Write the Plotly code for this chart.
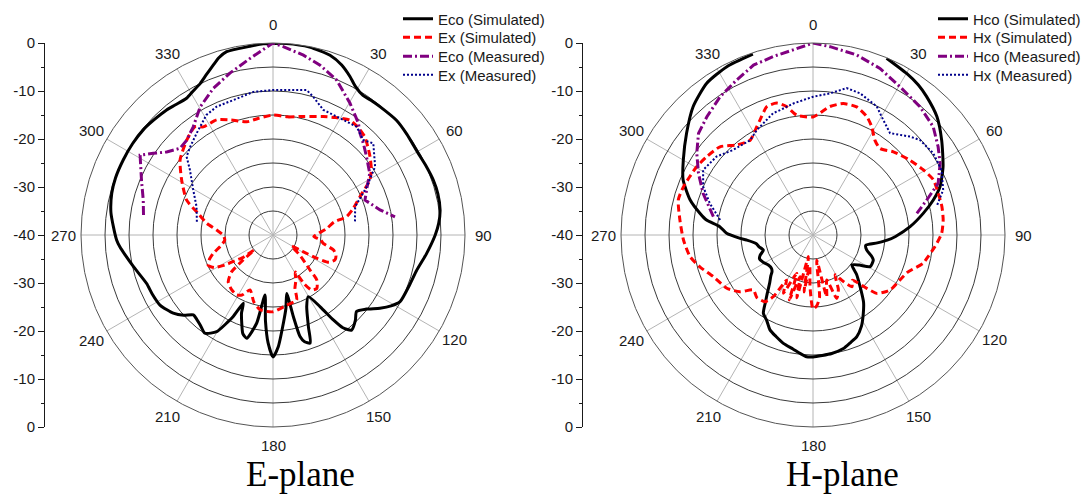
import math
import plotly.graph_objects as go

# ---------------- E-plane data ----------------
e_co_sim_theta = [0, 4, 11, 17.6, 22, 25.9, 29, 32.8, 36, 39.8, 47.1, 53, 60.6, 66, 71, 76, 81.5, 86, 90,
                  97, 104, 110, 117.7, 121, 124.4, 128.5, 132.5, 136, 140.4, 143, 144.6, 146.7, 150.2, 154.8,
                  158.9, 161, 163.5, 165.1, 166, 166.8, 170, 173.3, 177.3, 180, 182.6, 185, 187.6, 190.5,
                  194.3, 197, 199.5, 202, 203.5, 206, 208, 210.2, 214.7, 219, 222, 224.9, 228, 231.9, 238.2,
                  244, 249, 257.2, 262, 265.6, 268.2, 273, 278, 284.5, 290, 296.6, 303, 309, 314, 319.6, 323,
                  327.7, 331, 334.3, 337.5, 340.6, 343, 345.8, 353, 357, 360]
e_co_sim_r = [-0.1, 0, -0.1, -0.7, -1.8, -3.3, -4.6, -5.4, -5.3, -5.2, -4.9, -5.1, -5.3, -5.0, -4.7, -4.6, -4.8, -5.4, -6.2,
              -7.8, -9.2, -9.7, -10.1, -11.3, -13, -15.2, -16.4, -15.3, -14.3, -15.8, -18.3, -22.1, -25.2, -23.5,
              -19.5, -16.2, -16.8, -18.1, -22.5, -27.5, -24.5, -21.5, -16.7, -14.6, -17.5, -22, -27.4, -21.3,
              -17.8, -18.5, -20.5, -22.5, -24.5, -21.1, -19, -16.7, -15.1, -15.9, -16.3, -16.5, -15, -13.6, -12.3,
              -12, -11.8, -10.2, -9, -8.0, -7.4, -6.7, -5.9, -5.3, -5.1, -5.1, -5.1, -5.2, -5.5, -5.8, -6.1,
              -6.3, -5.7, -5.0, -3.8, -2.5, -1.4, -0.6, -0.4, -0.1, -0.1]

e_x_sim_theta = [0, 7, 14.4, 23, 28, 33.8, 38, 43.1, 47, 51, 56, 60.4, 66.2, 72, 76, 78, 83, 88, 92, 96, 99.4,
                 104, 108, 112, 116, 118, 119, 120.5, 123, 126, 129.5, 133.4, 135.8, 140.7, 145, 147.5, 149,
                 153, 157.6, 160, 169, 180, 189.8, 196, 202.7, 207, 211.2, 216.9, 223.7, 228.4, 230, 231.5,
                 233.5, 235.9, 238, 241, 245.1, 249, 253, 258, 264, 270, 275, 280, 286, 292, 301, 309, 317.7,
                 324.2, 327.2, 334, 340, 347, 353, 360]
e_x_sim_r = [-15, -15.2, -14.5, -13.2, -12.3, -11.2, -11.4, -12, -13, -14, -15.3, -16.8, -20.2, -22.5, -24.2, -27,
             -28.7, -30.5, -31.5, -30, -29.4, -27, -26.2, -26.1, -27, -29.7, -33, -35.5, -35, -33.5, -31.8, -29.4,
             -26.9, -25.6, -26, -28, -31, -29.5, -28, -25.6, -25.1, -24, -24.2, -25.5, -27.6, -26, -25.4, -25.7,
             -26.5, -28.5, -31.9, -35, -32, -30.4, -28.2, -26, -25.1, -25.8, -27, -28.8, -29.9, -29.6, -28.2, -26,
             -23.8, -20.6, -17.8, -15.1, -13.3, -12.2, -13.2, -13.3, -14.5, -15.8, -15.5, -15]

e_co_meas_theta = [278.8, 285.1, 292.7, 301, 304.3, 308, 313, 317.7, 323.6, 330.4, 337.9, 345.1, 352.6, 0, 3.1,
                   9.6, 15.5, 22.3, 30.3, 37.4, 40.5, 45, 50.1, 57.5, 63, 69.2, 76.8, 81.5]
e_co_meas_r = [-12.7, -12, -10.3, -7.7, -9.8, -11.9, -13.5, -13.3, -12, -9.3, -7, -5.1, -2.9, 0, -0.7,
               -2, -3.3, -5.1, -8.2, -10.7, -12.1, -13.3, -14.6, -16.1, -18, -19.5, -17.1, -14.3]

e_x_meas_theta = [279.9, 290.4, 299.5, 308.1, 312.2, 316.8, 323.1, 331, 336.3, 343.6, 352.2, 0, 13.1, 16.2,
                  21.9, 31.4, 37.7, 43.5, 47.6, 56.2, 62.7, 71, 80.8]
e_x_meas_r = [-23.9, -23, -20.9, -18, -15.7, -14.8, -13.5, -11.4, -10.8, -10.7, -9.9, -9.8, -9, -10,
              -11.9, -11.9, -11.5, -12.7, -11.7, -14.4, -18, -21.9, -22.7]

# ---------------- H-plane data ----------------
# (None = beyond the 0 dB rim, clipped in the original)
h_co_sim_theta = [0, 10, 17, 22.6, 30.1, 35, 39.4, 46.3, 53.6, 62.3, 69.2, 73.8, 78.9, 85.1, 91, 94, 97, 101,
                  105.6, 110, 112.5, 119, 123, 127.5, 132, 137.7, 143, 147.3, 152, 156.8, 160.6, 165, 171,
                  180, 183, 186.3, 190, 195.3, 200, 204.4, 208.6, 212.4, 215.5, 218, 222, 226, 228, 231, 236.1,
                  241, 246, 249, 253.2, 257.6, 261.6, 265.7, 267.4, 271.1, 275.1, 278, 280.9, 285.9, 293, 300,
                  308.8, 317, 325, 332.9, 341.6, 345, 350, 360]
h_co_sim_r = [None, None, None, -0.1, -1.1, -1.8, -2.7, -4.3, -6.7, -9.4, -11.7, -13.9, -16.6, -19.7, -22.8, -24.5,
              -26.5, -28.8, -28.4, -27, -26.4, -26.4, -28.5, -29.8, -27.8, -25.4, -22.5, -20.6, -18.5, -16.9,
              -16.3, -15.5, -15, -14.6, -14.6, -15.2, -15.9, -16.6, -17.5, -18.3, -19.8, -20.7, -23, -24.5,
              -26.5, -27.8, -28.5, -28.9, -28.8, -28.2, -27.8, -28.2, -29.2, -28.5, -28, -26.1, -24.8, -22,
              -20.5, -17.6, -16, -13.4, -10.6, -8.8, -6.2, -3.4, -1.4, -0.6, -0.3, None, None, None]

h_x_sim_theta = [0, 7.5, 13, 18.8, 24.4, 28.4, 33.1, 37.7, 44, 52.3, 59.5, 65.4, 71.6, 77.6, 83.4, 89.3, 95.5,
                 101.6, 104.4, 111.4, 117.3, 124.9, 128, 132.5, 134.8, 139, 143, 147, 151, 155, 159.5, 163,
                 167.5, 171.6, 174, 177, 180, 183.3, 186, 189, 192, 194.5, 197.3, 200, 203, 207, 210.3,
                 212.8, 215.7, 222, 227.3, 232.2, 238.3, 247.3, 254.3, 260, 267.8, 276.4, 284.6, 290.4,
                 295.4, 300.4, 306.4, 313.5, 319.7, 326.4, 332.5, 335.3, 340.2, 344.6, 348.4, 352.3, 360]
h_x_sim_r = [-15.4, -13, -11.9, -11.8, -12.9, -14.3, -16.4, -17.2, -15.9, -14.5, -13.3, -12.4, -12.5, -12.5,
             -12.7, -13.2, -14.5, -15.8, -16.3, -18.8, -19.6, -20.2, -20.8, -22, -24.2, -27.5, -26.5, -28.5,
             -30.5, -27.5, -25.9, -30.2, -26.8, -34.7, -27, -25.2, -24.6, -29.2, -33.5, -28, -35.4, -26.5,
             -30.9, -25.6, -31.3, -26.4, -29.1, -24.7, -22.9, -22.5, -23.1, -20.7, -18.9, -17.5, -15.5, -14,
             -13, -12.1, -11, -11.2, -11.6, -11.9, -12.5, -13.3, -15.4, -16.3, -14.6, -13.6, -11.6, -11.5,
             -12.7, -14.8, -15.4]

h_co_meas_theta = [280.4, 290.8, 298.3, 305.1, 311.6, 318.1, 326.1, 333.8, 340.7, 347.5, 353.9, 0, 5.2, 13.6,
                   21.9, 30.4, 39.8, 48, 54.8, 60.6, 67.6, 72.9, 78.2]
h_co_meas_r = [-18.9, -15.5, -12.9, -10.4, -8.1, -6.9, -5.3, -4, -2.5, -1.9, -1.2, 0, -0.6, -1.4,
               -2.6, -4.2, -5.2, -6.3, -8.1, -9.6, -11.8, -15.2, -17.9]

h_x_meas_theta = [279.2, 287.1, 293.8, 300.6, 309.1, 316.8, 326.4, 331.8, 341.9, 345.2, 351.5, 0, 6.8, 12.9,
                  18.4, 26.4, 30.1, 37.1, 44.6, 48.4, 55.8, 63.2, 70.9, 77.1]
h_x_meas_r = [-20.4, -17.5, -15, -13.4, -14.1, -15.7, -16.3, -15.2, -13.3, -13.1, -12.3, -11.2, -10.3, -8.6,
              -8.9, -10.1, -11.5, -13.4, -11.2, -10.2, -9.7, -10, -11.3, -13.6]

angle_ticks = [0, 30, 60, 90, 120, 150, 180, 210, 240, 270, 300, 330]
scale_vals = [-40, -30, -20, -10, 0, 10, 20, 30, 40]
scale_text = ["0", "-10", "-20", "-30", "-40", "-30", "-20", "-10", "0"]
plane_titles = ["E-plane", "H-plane"]
e_names = ["Eco (Simulated)", "Ex (Simulated)", "Eco (Measured)", "Ex (Measured)"]
h_names = ["Hco (Simulated)", "Hx (Simulated)", "Hco (Measured)", "Hx (Measured)"]

FONT = "Arial, Liberation Sans, sans-serif"
W, H = 1092, 494

fig = go.Figure()

STYLES = [
    dict(color="black", width=3, dash="solid"),
    dict(color="#ff0000", width=3, dash="7px,4px"),
    dict(color="#800080", width=3, dash="9px,3px,2px,3px"),
    dict(color="#00008b", width=2, dash="2px,2px"),
]
SHAPES = ["spline", "spline", "linear", "linear"]

def add_set(subplot, legend_offset, names, data):
    for i, (nm, (th, rr), st, sh) in enumerate(zip(names, data, STYLES, SHAPES)):
        lg = "legend" if legend_offset + i == 1 else "legend%d" % (legend_offset + i)
        line = dict(color=st["color"], width=st["width"], dash=st["dash"], shape=sh)
        if sh == "spline":
            line["smoothing"] = 0.6
        fig.add_trace(go.Scatterpolar(theta=th, r=rr, mode="lines", name=nm, subplot=subplot,
                                      legend=lg, connectgaps=False, line=line))

add_set("polar", 1, e_names,
        [(e_co_sim_theta, e_co_sim_r), (e_x_sim_theta, e_x_sim_r),
         (e_co_meas_theta, e_co_meas_r), (e_x_meas_theta, e_x_meas_r)])
add_set("polar2", 5, h_names,
        [(h_co_sim_theta, h_co_sim_r), (h_x_sim_theta, h_x_sim_r),
         (h_co_meas_theta, h_co_meas_r), (h_x_meas_theta, h_x_meas_r)])

# dummy traces to create the dB scale axes
fig.add_trace(go.Scatter(x=[None], y=[None], xaxis="x", yaxis="y", showlegend=False))
fig.add_trace(go.Scatter(x=[None], y=[None], xaxis="x2", yaxis="y2", showlegend=False))

R = 192
LABEL_R = 210
centers = [(273, 235), (813, 235)]

def polar_layout(cx, cy):
    return dict(
        domain=dict(x=[(cx - R) / W, (cx + R) / W], y=[(H - cy - R) / H, (H - cy + R) / H]),
        bgcolor="white",
        radialaxis=dict(range=[-40, 0], dtick=5, tick0=0, showticklabels=False, ticks="", showline=False,
                        gridcolor="#3a3a3a", gridwidth=1),
        angularaxis=dict(rotation=90, direction="clockwise", tickmode="array", tickvals=angle_ticks,
                         showticklabels=False, showline=True, linecolor="#555555",
                         linewidth=1, gridcolor="#b4b4b4", gridwidth=1, ticks=""),
    )

def scale_axis():
    return dict(domain=[(H - 235 - R) / H, (H - 235 + R) / H], range=[-40, 40], tickmode="array",
                tickvals=scale_vals, ticktext=scale_text, showline=True, linecolor="#1a1a1a", linewidth=1,
                ticks="outside", ticklen=6, tickcolor="#1a1a1a", showgrid=False, zeroline=False,
                minor=dict(dtick=5, tick0=0, ticks="outside", ticklen=3, tickcolor="#1a1a1a"),
                tickfont=dict(family=FONT, size=15, color="#1a1a1a"), fixedrange=True)

row_y = [19, 37.5, 56.5, 75]
legends = {}
for k in range(8):
    key = "legend" if k == 0 else "legend%d" % (k + 1)
    lx = 398 if k < 4 else 933
    legends[key] = dict(x=lx / W, y=(H - row_y[k % 4]) / H, xanchor="left", yanchor="middle",
                        bgcolor="rgba(0,0,0,0)", borderwidth=0,
                        font=dict(family=FONT, size=15, color="#1a1a1a"))

annotations = []
# angular tick labels, placed on a circle just outside the 0 dB rim
for cx, cy in centers:
    for a in angle_ticks:
        lx = cx + LABEL_R * math.sin(math.radians(a))
        ly = cy - LABEL_R * math.cos(math.radians(a))
        annotations.append(dict(text=str(a), x=lx / W, y=(H - ly) / H, xref="paper", yref="paper",
                                showarrow=False, xanchor="center", yanchor="middle",
                                font=dict(family=FONT, size=15, color="#1a1a1a")))
for title, tx in zip(plane_titles, [300.5, 842]):
    annotations.append(dict(text=title, x=tx / W, y=(H - 474) / H, xref="paper", yref="paper",
                            showarrow=False, xanchor="center", yanchor="middle",
                            font=dict(family="Liberation Serif, Times New Roman, serif", size=35, color="black")))

fig.update_layout(
    width=W, height=H, margin=dict(l=0, r=0, t=0, b=0, pad=0, autoexpand=False),
    paper_bgcolor="white", plot_bgcolor="rgba(0,0,0,0)",
    font=dict(family=FONT, size=15, color="#1a1a1a"),
    polar=polar_layout(*centers[0]),
    polar2=polar_layout(*centers[1]),
    xaxis=dict(domain=[45 / W, 46 / W], visible=False, range=[0, 1]),
    yaxis=dict(anchor="x", **scale_axis()),
    xaxis2=dict(domain=[583 / W, 584 / W], visible=False, range=[0, 1]),
    yaxis2=dict(anchor="x2", **scale_axis()),
    annotations=annotations,
    hovermode=False,
    **legends,
)

fig.write_html("out.html", config={"displayModeBar": False, "staticPlot": False},
               post_script="document.body.style.margin='0px';")
